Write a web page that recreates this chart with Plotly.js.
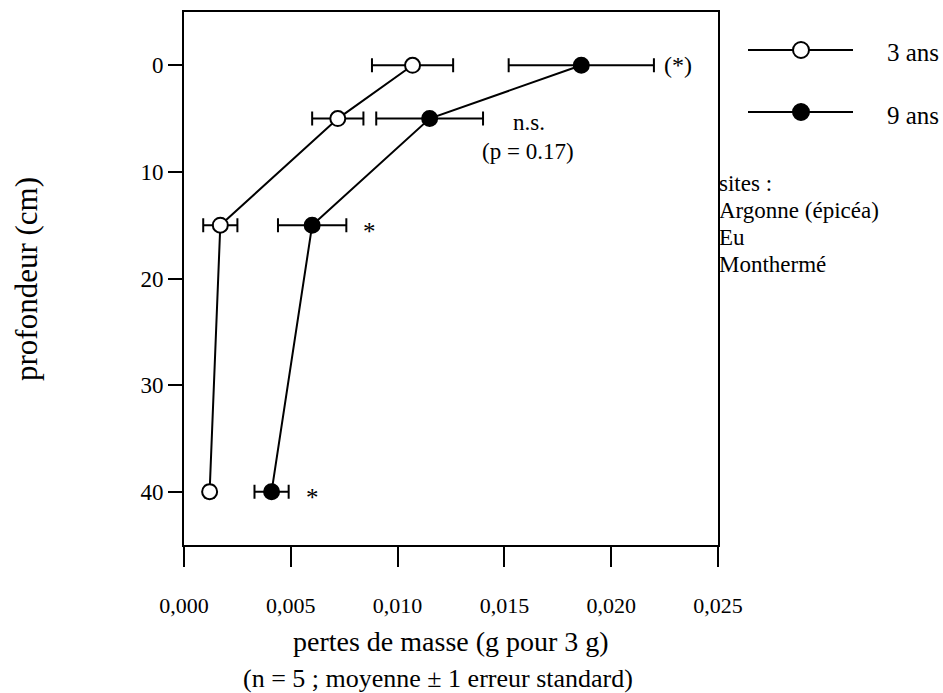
<!DOCTYPE html>
<html><head><meta charset="utf-8">
<script src="https://cdn.plot.ly/plotly-3.0.1.min.js"></script>
<style>html,body{margin:0;padding:0;background:#fff}</style>
</head><body><div id="chart" style="width:943px;height:693px"></div>
<script>
// ---- data ----
const depths = [0, 5, 15, 40];
const loss3 = [0.0107, 0.0072, 0.0017, 0.0012];
const err3 = [0.0019, 0.0012, 0.0008, 0.0002];
const loss9 = [0.0186, 0.0115, 0.0060, 0.0041];
const err9 = [0.0034, 0.0025, 0.0016, 0.0008];
const seriesNames = ["3 ans", "9 ans"];
const xTickVals = [0, 0.005, 0.010, 0.015, 0.020, 0.025];
const xTickText = ["0,000", "0,005", "0,010", "0,015", "0,020", "0,025"];
const yTickVals = [0, 10, 20, 30, 40];
const sigLabels = ["(*)", "n.s.", "*", "*"];
const pNote = "(p = 0.17)";
const siteLines = ["sites :", "Argonne (épicéa)", "Eu", "Monthermé"];
const xTitle = "pertes de masse (g pour 3 g)";
const xSubtitle = "(n = 5 ; moyenne ± 1 erreur standard)";
const yTitle = "profondeur (cm)";

// ---- styles ----
const FONT = "Liberation Serif";
const BLACK = "#000";

function series(x, err, name, fill) {
  return {
    type: "scatter", mode: "lines+markers", name: name,
    x: x, y: depths,
    error_x: {type: "data", array: err, visible: true, color: BLACK, thickness: 2, width: 7},
    line: {color: BLACK, width: 2},
    marker: {size: 15, color: fill, line: {color: BLACK, width: 2}},
    showlegend: false, hoverinfo: "x+y"
  };
}

const traces = [
  series(loss3, err3, seriesNames[0], "#fff"),
  series(loss9, err9, seriesNames[1], BLACK)
];

// paper-coordinate helpers (plot area 184..718 x 12..545)
const px = v => (v - 184) / 534;
const py = v => (545 - v) / 533;
const f = s => ({family: FONT, size: s, color: BLACK});

const annotations = [];
annotations.push({xref: "x", yref: "y", x: loss9[0] + err9[0], y: depths[0], text: sigLabels[0],
  xanchor: "left", yanchor: "middle", xshift: 8, showarrow: false, font: f(24)});
annotations.push({xref: "x", yref: "y", x: loss9[1] + err9[1], y: depths[1], text: sigLabels[1],
  xanchor: "left", yanchor: "middle", xshift: 28, yshift: -4, showarrow: false, font: f(23)});
annotations.push({xref: "x", yref: "y", x: loss9[1] + err9[1], y: depths[1], text: pNote,
  xanchor: "left", yanchor: "middle", xshift: -3, yshift: -33, showarrow: false, font: f(23)});
annotations.push({xref: "x", yref: "y", x: loss9[2] + err9[2], y: depths[2], text: sigLabels[2],
  xanchor: "left", yanchor: "middle", xshift: 15, yshift: -6, showarrow: false, font: f(25)});
annotations.push({xref: "x", yref: "y", x: loss9[3] + err9[3], y: depths[3], text: sigLabels[3],
  xanchor: "left", yanchor: "middle", xshift: 15, yshift: -6, showarrow: false, font: f(25)});

// axis titles
annotations.push({xref: "paper", yref: "paper", x: 0.5, y: py(641), text: xTitle, xanchor: "center", yanchor: "middle",
  showarrow: false, font: f(28)});
annotations.push({xref: "paper", yref: "paper", x: px(438), y: py(678), text: xSubtitle, xanchor: "center", yanchor: "middle",
  showarrow: false, font: f(26)});
annotations.push({xref: "paper", yref: "paper", x: px(26), y: py(279), text: yTitle, textangle: -90, xanchor: "center", yanchor: "middle",
  showarrow: false, font: f(31)});

// legend texts
const legendY = [50, 112];
seriesNames.forEach((n, i) => annotations.push({xref: "paper", yref: "paper", x: px(885), y: py(legendY[i] + 3), text: n,
  xanchor: "left", yanchor: "middle", showarrow: false, font: f(25)}));
siteLines.forEach((t, i) => annotations.push({xref: "paper", yref: "paper", x: px(717), y: py(183 + 27 * i), text: t,
  xanchor: "left", yanchor: "middle", showarrow: false, font: f(23)}));

// legend symbols
const shapes = [];
const fills = ["#fff", BLACK];
legendY.forEach((yy, i) => {
  shapes.push({type: "line", xref: "paper", yref: "paper", x0: px(748), x1: px(853), y0: py(yy), y1: py(yy),
    line: {color: BLACK, width: 2}});
  shapes.push({type: "circle", xref: "paper", yref: "paper", xsizemode: "pixel", ysizemode: "pixel",
    xanchor: px(801), yanchor: py(yy), x0: -8, x1: 8, y0: -8, y1: 8,
    fillcolor: fills[i], line: {color: BLACK, width: 2}});
});

const layout = {
  width: 943, height: 693,
  margin: {l: 184, r: 225, t: 12, b: 148},
  paper_bgcolor: "#fff", plot_bgcolor: "#fff",
  font: f(22),
  showlegend: false,
  xaxis: {range: [0, 0.025], tickvals: xTickVals, ticktext: xTickText,
    ticks: "outside", ticklen: 20, tickwidth: 2, tickcolor: BLACK,
    showline: true, linewidth: 2, linecolor: BLACK, mirror: true,
    showgrid: false, zeroline: false, ticklabelstandoff: 20,
    tickfont: f(22)},
  yaxis: {range: [45, -5], tickvals: yTickVals,
    ticks: "outside", ticklen: 14, tickwidth: 2, tickcolor: BLACK,
    showline: true, linewidth: 2, linecolor: BLACK, mirror: true,
    showgrid: false, zeroline: false,
    tickfont: f(23)},
  annotations: annotations,
  shapes: shapes
};

Plotly.newPlot("chart", traces, layout, {staticPlot: true, displayModeBar: false});
</script>
</body></html>
